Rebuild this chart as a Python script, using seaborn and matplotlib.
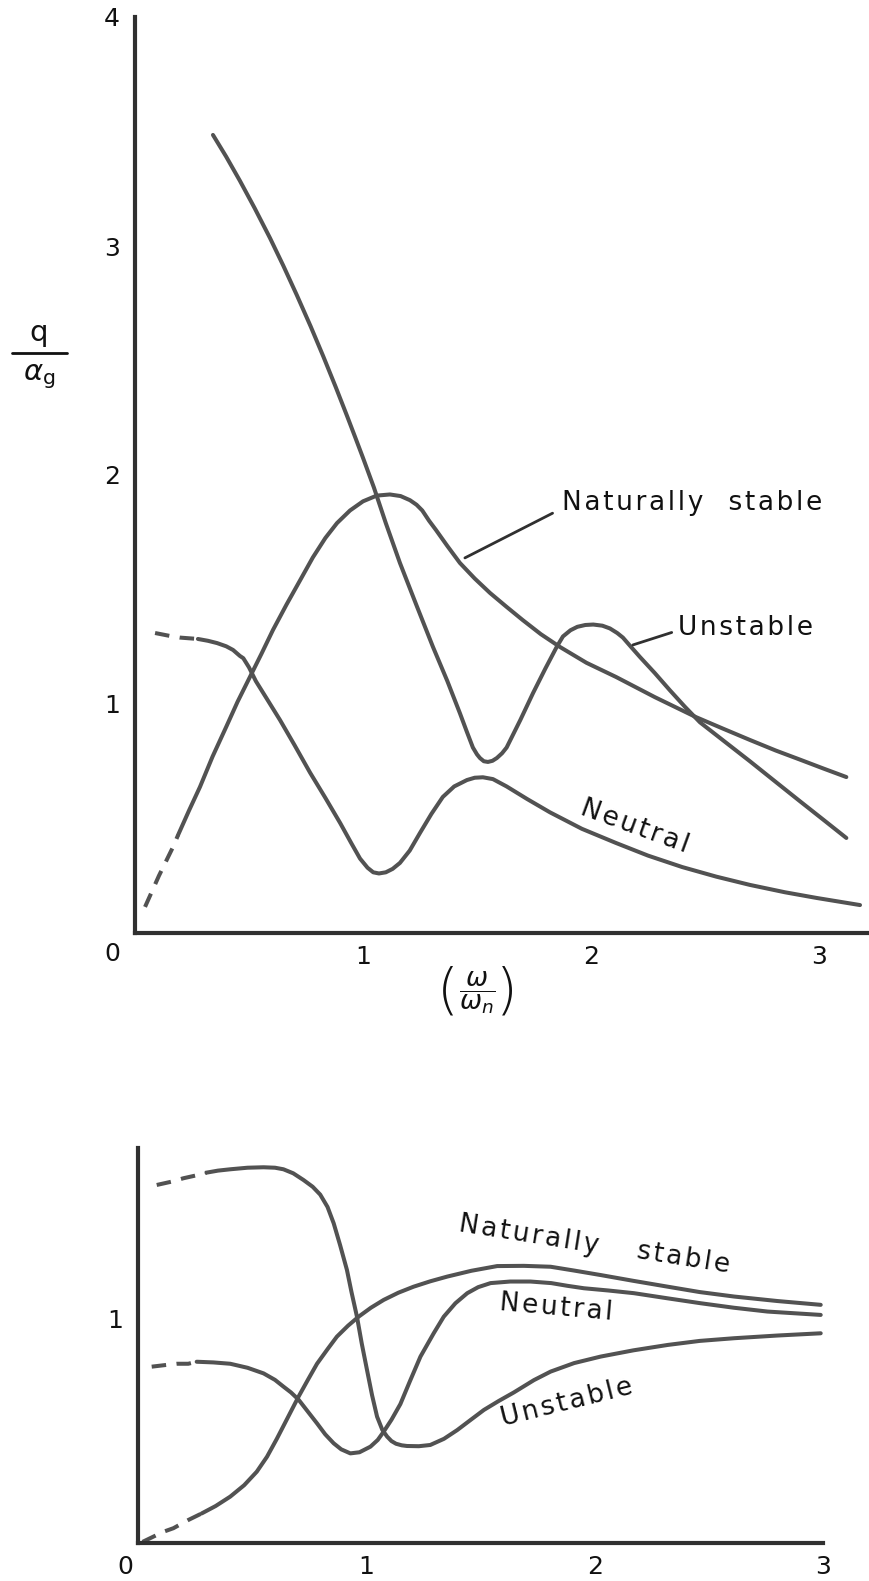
import matplotlib
matplotlib.use("Agg")
import matplotlib.pyplot as plt
import seaborn as sns

sns.set_theme(style="white")
plt.rcParams["font.family"] = ["DejaVu Sans"]
plt.rcParams["mathtext.fontset"] = "dejavusans"

# ---------------- upper panel: q / alpha_g against omega / omega_n ----------------
up_unstable_x = [0.342, 0.40, 0.46, 0.525, 0.592, 0.65, 0.71, 0.77, 0.825, 0.88, 0.93, 0.965,
                 1.0, 1.048, 1.10, 1.162, 1.235, 1.307, 1.37, 1.425, 1.455, 1.482, 1.50,
                 1.513, 1.53, 1.548, 1.568, 1.587, 1.61, 1.63, 1.69, 1.746, 1.80, 1.85,
                 1.877, 1.91, 1.94, 1.975, 2.01, 2.05, 2.083, 2.115, 2.14, 2.175, 2.215,
                 2.28, 2.346, 2.41, 2.478, 2.59, 2.697, 2.81, 2.917, 3.02, 3.12]
up_unstable_y = [3.485, 3.39, 3.285, 3.165, 3.035, 2.915, 2.785, 2.65, 2.52, 2.385, 2.258, 2.167,
                 2.075, 1.945, 1.79, 1.616, 1.43, 1.249, 1.10, 0.96, 0.88, 0.81, 0.78,
                 0.764, 0.75, 0.747, 0.752, 0.764, 0.785, 0.81, 0.93, 1.048, 1.155, 1.25,
                 1.295, 1.322, 1.337, 1.345, 1.347, 1.342, 1.33, 1.31, 1.29, 1.25, 1.205,
                 1.135, 1.06, 0.99, 0.92, 0.833, 0.75, 0.66, 0.575, 0.494, 0.415]

up_stable_x = [0.044, 0.105, 0.167, 0.189, 0.237, 0.285, 0.34, 0.40, 0.45, 0.504, 0.555,
               0.605, 0.665, 0.724, 0.78, 0.835, 0.886, 0.943, 1.0, 1.06, 1.118, 1.165,
               1.206, 1.235, 1.26, 1.29, 1.32, 1.37, 1.425, 1.49, 1.557, 1.63, 1.70, 1.78,
               1.864, 1.98, 2.11, 2.28, 2.46, 2.58, 2.697, 2.81, 2.917, 3.02, 3.12]
up_stable_y = [0.114, 0.25, 0.376, 0.428, 0.535, 0.638, 0.77, 0.90, 1.01, 1.118, 1.22,
               1.323, 1.435, 1.54, 1.64, 1.725, 1.79, 1.845, 1.885, 1.91, 1.915, 1.908,
               1.89, 1.87, 1.845, 1.80, 1.76, 1.69, 1.616, 1.548, 1.485, 1.424, 1.367, 1.305,
               1.249, 1.18, 1.118, 1.03, 0.943, 0.892, 0.843, 0.797, 0.757, 0.718, 0.681]

up_neutral_x = [0.088, 0.154, 0.197, 0.276, 0.32, 0.36, 0.40, 0.43, 0.46, 0.475, 0.50, 0.53,
                0.58, 0.636, 0.70, 0.768, 0.835, 0.90, 0.95, 0.987, 1.02, 1.045, 1.07,
                1.10, 1.13, 1.162, 1.205, 1.25, 1.30, 1.35, 1.40, 1.456, 1.49, 1.526, 1.57,
                1.63, 1.72, 1.82, 1.96, 2.11, 2.25, 2.40, 2.55, 2.697, 2.85, 2.99, 3.18]
up_neutral_y = [1.31, 1.297, 1.29, 1.284, 1.276, 1.266, 1.252, 1.236, 1.21, 1.20, 1.16, 1.10,
                1.02, 0.93, 0.82, 0.70, 0.59, 0.48, 0.39, 0.325, 0.285, 0.265, 0.26,
                0.265, 0.28, 0.306, 0.36, 0.437, 0.52, 0.594, 0.64, 0.668, 0.678, 0.68, 0.672,
                0.64, 0.585, 0.527, 0.455, 0.393, 0.338, 0.288, 0.246, 0.21, 0.178, 0.153, 0.122]

# ---------------- lower panel ----------------
lo_unstable_x = [0.082, 0.148, 0.199, 0.265, 0.30, 0.35, 0.404, 0.48, 0.55, 0.60, 0.637,
                 0.68, 0.725, 0.765, 0.798, 0.83, 0.857, 0.885, 0.915, 0.935, 0.959, 0.98,
                 1.003, 1.025, 1.047, 1.07, 1.091, 1.11, 1.13, 1.155, 1.178, 1.23, 1.28,
                 1.34, 1.398, 1.455, 1.515, 1.58, 1.646, 1.734, 1.807, 1.91, 2.026, 2.17,
                 2.32, 2.46, 2.611, 2.80, 2.99]
lo_unstable_y = [1.598, 1.613, 1.628, 1.643, 1.653, 1.662, 1.668, 1.675, 1.677, 1.675, 1.668,
                 1.65, 1.62, 1.59, 1.555, 1.50, 1.427, 1.33, 1.219, 1.12, 1.01, 0.89,
                 0.772, 0.66, 0.564, 0.505, 0.475, 0.455, 0.443, 0.436, 0.433, 0.432, 0.4375,
                 0.465, 0.504, 0.548, 0.594, 0.634, 0.672, 0.727, 0.765, 0.803, 0.832, 0.86,
                 0.884, 0.902, 0.914, 0.926, 0.936]

lo_neutral_x = [0.06, 0.126, 0.17, 0.22, 0.257, 0.33, 0.404, 0.48, 0.55, 0.60, 0.637, 0.67,
                0.703, 0.745, 0.784, 0.82, 0.857, 0.89, 0.93, 0.97, 1.018, 1.05, 1.076,
                1.11, 1.149, 1.19, 1.237, 1.295, 1.339, 1.39, 1.442, 1.49, 1.544, 1.63,
                1.719, 1.81, 1.88, 1.953, 2.06, 2.172, 2.32, 2.465, 2.61, 2.757, 2.99]
lo_neutral_y = [0.787, 0.795, 0.80, 0.80, 0.809, 0.806, 0.80, 0.782, 0.757, 0.728, 0.698, 0.672,
                0.64, 0.585, 0.534, 0.485, 0.445, 0.418, 0.40, 0.405, 0.43, 0.46, 0.497,
                0.55, 0.62, 0.72, 0.832, 0.936, 1.01, 1.07, 1.115, 1.142, 1.16, 1.167,
                1.167, 1.16, 1.148, 1.137, 1.127, 1.115, 1.092, 1.07, 1.05, 1.033, 1.018]

lo_stable_x = [0.02, 0.111, 0.155, 0.221, 0.279, 0.34, 0.404, 0.465, 0.52, 0.565, 0.608,
               0.655, 0.703, 0.745, 0.784, 0.83, 0.871, 0.92, 0.966, 1.02, 1.076, 1.14,
               1.207, 1.28, 1.354, 1.46, 1.573, 1.69, 1.807, 1.91, 2.026, 2.17, 2.32,
               2.46, 2.611, 2.80, 2.99]
lo_stable_y = [0.005, 0.05, 0.066, 0.103, 0.132, 0.165, 0.207, 0.258, 0.318, 0.385, 0.465,
               0.558, 0.653, 0.73, 0.80, 0.865, 0.921, 0.97, 1.01, 1.05, 1.085, 1.117,
               1.144, 1.168, 1.189, 1.215, 1.236, 1.237, 1.233, 1.216, 1.196, 1.17, 1.144,
               1.12, 1.10, 1.08, 1.063]

# where each curve changes from dashed (extrapolated) to solid
dash_until = {
    "up_stable": 0.189, "up_neutral": 0.276,
    "lo_unstable": 0.30, "lo_neutral": 0.257, "lo_stable": 0.279,
}

up_xticks = [1, 2, 3]
up_yticks = [1, 2, 3, 4]
lo_xticks = [1, 2, 3]
lo_yticks = [1]

LINE = "#525252"
INK = "#111111"
LW = 2.9
DASH = (0, (3.6, 2.6))
HAIR = "\u200a"


def spaced(s):
    """Open up the lettering a little, like stencilled captions."""
    return HAIR.join(s)


def draw_curve(ax, xs, ys, split=None):
    if split is None:
        sns.lineplot(x=xs, y=ys, ax=ax, sort=False, estimator=None,
                     color=LINE, linewidth=LW, solid_capstyle="round",
                     solid_joinstyle="round")
        return
    dx = [x for x in xs if x <= split]
    dy = [y for x, y in zip(xs, ys) if x <= split]
    sx = [x for x in xs if x >= split]
    sy = [y for x, y in zip(xs, ys) if x >= split]
    sns.lineplot(x=dx, y=dy, ax=ax, sort=False, estimator=None,
                 color=LINE, linewidth=LW, linestyle=DASH)
    sns.lineplot(x=sx, y=sy, ax=ax, sort=False, estimator=None,
                 color=LINE, linewidth=LW, solid_capstyle="round",
                 solid_joinstyle="round")


def style_axes(ax, xticks, yticks):
    for s in ("top", "right"):
        ax.spines[s].set_visible(False)
    for s in ("left", "bottom"):
        ax.spines[s].set_linewidth(3.0)
        ax.spines[s].set_color("#303030")
    ax.set_xticks(xticks)
    ax.set_yticks(yticks)
    ax.set_xticklabels([str(t) for t in xticks])
    ax.set_yticklabels([str(t) for t in yticks])
    ax.tick_params(axis="both", direction="in", length=11, width=2.2,
                   colors="#202020", labelsize=18, labelcolor=INK)
    ax.tick_params(axis="x", pad=9)
    ax.tick_params(axis="y", pad=11)
    ax.set_xlabel("")
    ax.set_ylabel("")
    ax.grid(False)


fig = plt.figure(figsize=(8.7, 15.81), dpi=100)
fig.patch.set_facecolor("white")

# upper panel
ax1 = fig.add_axes([135 / 870, 1 - 933 / 1581, 733 / 870, 916 / 1581])
draw_curve(ax1, up_unstable_x, up_unstable_y)
draw_curve(ax1, up_stable_x, up_stable_y, dash_until["up_stable"])
draw_curve(ax1, up_neutral_x, up_neutral_y, dash_until["up_neutral"])
ax1.set_xlim(0, 3.215)
ax1.set_ylim(0, 4)
style_axes(ax1, up_xticks, up_yticks)
ax1.text(-0.10, -0.09, "0", fontsize=18, color=INK, ha="center", va="center")

ax1.annotate(spaced("Naturally") + "   " + spaced("stable"),
             xy=(1.447, 1.638), xytext=(1.873, 1.877),
             fontsize=19, color=INK, ha="left", va="center",
             arrowprops=dict(arrowstyle="-", color="#303030", lw=2.0,
                             relpos=(0, 0.3), shrinkA=5, shrinkB=0))
ax1.annotate(spaced("Unstable"), xy=(2.184, 1.258), xytext=(2.38, 1.332),
             fontsize=19, color=INK, ha="left", va="center",
             arrowprops=dict(arrowstyle="-", color="#303030", lw=2.0,
                             relpos=(0, 0.4), shrinkA=2, shrinkB=0))
ax1.text(2.19, 0.463, spaced("Neutral"), fontsize=19, color=INK, rotation=-20,
         ha="center", va="center", rotation_mode="anchor")

# abscissa label: omega / omega_n between tall parentheses
ax1.text(1.5, -0.262, r"$\dfrac{\omega}{\omega_n}$", fontsize=19,
         color=INK, ha="center", va="center")
ax1.text(1.37, -0.262, "(", fontsize=40, color=INK, ha="center", va="center",
         fontweight="light")
ax1.text(1.63, -0.262, ")", fontsize=40, color=INK, ha="center", va="center",
         fontweight="light")

# y label drawn as a stacked fraction
fig.text(39 / 870, 1 - 333 / 1581, "q", fontsize=21, color=INK, ha="center", va="center")
fig.text(39 / 870, 1 - 377 / 1581, r"$\alpha_\mathrm{g}$", fontsize=21, color=INK,
         ha="center", va="center")
fig.add_artist(plt.Line2D([12 / 870, 67 / 870], [1 - 353 / 1581, 1 - 353 / 1581],
                          color=INK, lw=2.0, transform=fig.transFigure))

# lower panel
ax2 = fig.add_axes([138 / 870, 1 - 1543 / 1581, 685 / 870, 395 / 1581])
draw_curve(ax2, lo_unstable_x, lo_unstable_y, dash_until["lo_unstable"])
draw_curve(ax2, lo_neutral_x, lo_neutral_y, dash_until["lo_neutral"])
draw_curve(ax2, lo_stable_x, lo_stable_y, dash_until["lo_stable"])
ax2.set_xlim(0, 3)
ax2.set_ylim(0, 1.763)
style_axes(ax2, lo_xticks, lo_yticks)
ax2.text(-0.057, -0.107, "0", fontsize=18, color=INK, ha="center", va="center")

ax2.text(1.71, 1.375, spaced("Naturally"), fontsize=19, color=INK, rotation=-9,
         ha="center", va="center", rotation_mode="anchor")
ax2.text(2.39, 1.272, spaced("stable"), fontsize=19, color=INK, rotation=-9,
         ha="center", va="center", rotation_mode="anchor")
ax2.text(1.83, 1.049, spaced("Neutral"), fontsize=19, color=INK, rotation=-5,
         ha="center", va="center", rotation_mode="anchor")
ax2.text(1.88, 0.625, spaced("Unstable"), fontsize=19, color=INK, rotation=14,
         ha="center", va="center", rotation_mode="anchor")

fig.savefig("out.png", dpi=100, facecolor="white")
